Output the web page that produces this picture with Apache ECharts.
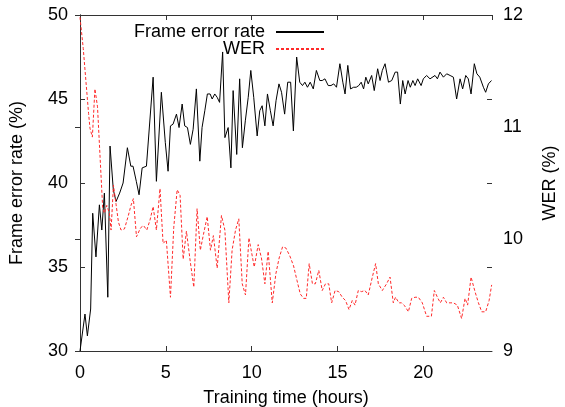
<!DOCTYPE html>
<html>
<head>
<meta charset="utf-8">
<script src="https://cdn.jsdelivr.net/npm/echarts@6/dist/echarts.min.js"></script>
<style>
html,body{margin:0;padding:0;background:#fff;}
#chart{width:565px;height:407px;}
</style>
</head>
<body>
<div id="chart"></div>
<script>
// Frame error rate (%) vs training time (hours)
var ferPoints = [
[0,30.0],[0.29,32.2],[0.43,30.9],[0.62,32.5],[0.74,38.2],[0.93,35.6],[1.13,38.7],[1.27,37.2],[1.42,39.4],[1.62,33.2],
[1.75,42.2],[1.94,39.6],[2.10,38.9],[2.31,39.4],[2.51,40.0],[2.76,42.1],[2.96,41.0],[3.09,41.0],[3.28,40.1],[3.44,39.3],
[3.62,40.9],[3.87,41.0],[4.26,46.3],[4.45,40.1],[4.74,45.4],[4.97,42.4],[5.13,40.7],[5.27,43.4],[5.42,43.5],[5.62,44.1],
[5.77,43.3],[5.95,44.7],[6.10,43.4],[6.26,43.3],[6.43,42.3],[6.59,43.2],[6.78,45.6],[6.98,41.3],[7.11,43.3],[7.27,44.3],
[7.42,45.3],[7.58,45.3],[7.70,45.0],[7.85,45.3],[7.99,45.1],[8.13,44.8],[8.31,47.8],[8.44,42.7],[8.63,43.3],[8.79,40.9],
[8.92,45.5],[9.13,41.7],[9.30,46.2],[9.46,42.1],[9.63,43.7],[9.80,45.1],[9.95,46.7],[10.12,45.1],[10.32,42.8],[10.47,44.3],
[10.61,44.6],[10.77,43.4],[10.92,45.3],[11.09,44.3],[11.25,43.4],[11.42,44.9],[11.59,45.9],[11.74,45.4],[11.92,44.1],[12.10,46.0],
[12.27,46.0],[12.43,43.1],[12.62,47.5],[12.80,46.0],[12.96,45.8],[13.10,46.0],[13.25,45.7],[13.41,46.0],[13.59,45.6],[13.77,46.7],
[13.97,46.1],[14.11,46.1],[14.27,46.2],[14.46,45.8],[14.62,45.8],[14.78,45.9],[14.94,45.7],[15.14,47.1],[15.31,46.0],[15.44,45.3],
[15.60,47.0],[15.76,45.6],[15.94,45.7],[16.09,45.7],[16.24,45.8],[16.38,46.0],[16.52,45.6],[16.65,46.3],[16.79,45.9],[16.99,46.4],
[17.14,45.5],[17.34,46.8],[17.48,46.1],[17.61,46.7],[17.77,47.1],[17.97,46.0],[18.16,46.1],[18.36,46.6],[18.50,46.6],[18.66,44.7],
[18.80,46.1],[18.94,45.3],[19.11,46.1],[19.24,45.7],[19.39,46.1],[19.52,45.8],[19.67,46.2],[19.87,45.8],[20.00,46.2],[20.19,46.4],
[20.39,46.2],[20.48,46.3],[20.68,46.4],[20.82,46.2],[20.97,46.6],[21.17,46.3],[21.36,46.5],[21.56,46.4],[21.75,46.3],[21.94,45.0],
[22.14,46.2],[22.29,45.6],[22.47,46.4],[22.62,46.2],[22.78,45.3],[22.97,47.1],[23.12,46.5],[23.29,46.3],[23.50,45.7],[23.63,45.4],
[23.79,45.9],[23.97,46.1]
];
// WER (%) vs training time (hours)
var werPoints = [
[0,11.98],[0.19,11.70],[0.35,11.40],[0.50,11.12],[0.58,10.99],[0.72,10.91],[0.87,11.34],[1.02,11.18],[1.17,10.73],[1.32,10.28],
[1.42,10.23],[1.56,10.30],[1.71,10.23],[1.81,10.08],[1.95,10.48],[2.10,10.31],[2.24,10.15],[2.39,10.08],[2.59,10.09],[2.80,10.20],
[2.97,10.30],[3.11,10.36],[3.29,10.02],[3.53,10.10],[3.70,10.12],[3.89,10.08],[4.08,10.17],[4.26,10.29],[4.45,10.08],[4.66,10.45],
[4.84,9.96],[5.03,9.99],[5.27,9.48],[5.46,10.10],[5.66,10.44],[5.83,10.39],[6.01,9.82],[6.20,10.07],[6.43,9.79],[6.63,9.57],
[6.82,10.27],[7.01,9.90],[7.19,10.04],[7.41,10.20],[7.60,9.90],[7.77,10.03],[7.99,9.74],[8.24,10.21],[8.44,10.08],[8.67,9.43],
[8.86,9.90],[9.06,10.08],[9.25,10.18],[9.45,9.60],[9.64,9.50],[9.84,10.01],[10.15,9.75],[10.38,9.95],[10.57,9.83],[10.77,9.60],
[10.96,9.89],[11.20,9.43],[11.41,9.69],[11.60,9.83],[11.80,9.93],[11.99,9.92],[12.22,9.85],[12.44,9.76],[12.64,9.63],[12.83,9.51],
[13.02,9.47],[13.18,9.47],[13.35,9.78],[13.54,9.60],[13.71,9.60],[13.91,9.72],[14.11,9.54],[14.30,9.60],[14.49,9.60],[14.66,9.43],
[14.86,9.54],[15.07,9.53],[15.28,9.48],[15.47,9.45],[15.67,9.37],[15.86,9.45],[16.02,9.41],[16.21,9.54],[16.40,9.53],[16.60,9.54],
[16.79,9.50],[17.03,9.66],[17.22,9.78],[17.38,9.60],[17.61,9.54],[17.86,9.60],[18.06,9.66],[18.25,9.43],[18.38,9.48],[18.58,9.43],
[18.73,9.43],[18.93,9.40],[19.13,9.35],[19.32,9.47],[19.52,9.48],[19.71,9.48],[19.94,9.43],[20.19,9.31],[20.47,9.31],[20.64,9.54],
[20.82,9.48],[20.99,9.43],[21.17,9.48],[21.36,9.43],[21.56,9.43],[21.75,9.43],[21.98,9.41],[22.23,9.29],[22.43,9.47],[22.58,9.41],
[22.78,9.66],[23.01,9.53],[23.21,9.43],[23.40,9.35],[23.63,9.35],[23.83,9.45],[23.98,9.59]
];
var xRange = [0, 24];
var xTickStep = 5;
var ferRange = [30, 50];
var ferTickStep = 5;
var werRange = [9, 12];
var werTickStep = 1;
var seriesNames = ['Frame error rate', 'WER'];
var xTitle = 'Training time (hours)';
var ferTitle = 'Frame error rate (%)';
var werTitle = 'WER (%)';

var FONT = '"Liberation Sans", Arial, Helvetica, sans-serif';
var FS = 18;
var AXC = '#333';
var chart = echarts.init(document.getElementById('chart'), null, {renderer: 'canvas'});

function legendItem(name, top) {
  return {data: [name], right: 240, top: top, orient: 'vertical', align: 'right', padding: 0,
    itemWidth: 48, itemHeight: 14, itemStyle: {opacity: 0},
    textStyle: {fontFamily: FONT, fontSize: FS, color: '#000', padding: [0, 6, 0, 0]}};
}

var option = {
  animation: false,
  backgroundColor: '#fff',
  textStyle: {fontFamily: FONT},
  grid: {left: 80, right: 73, top: 15, bottom: 56, containLabel: false, outerBoundsMode: 'none'},
  legend: [legendItem(seriesNames[0], 23), legendItem(seriesNames[1], 40)],
  xAxis: [
    {type: 'value', position: 'bottom', min: xRange[0], max: xRange[1], interval: xTickStep,
     name: xTitle, nameLocation: 'middle', nameGap: 38,
     nameTextStyle: {fontFamily: FONT, fontSize: FS, color: '#000'},
     axisLine: {show: true, lineStyle: {color: AXC, width: 1}},
     axisTick: {show: true, inside: true, length: 5, lineStyle: {color: AXC}},
     axisLabel: {show: true, margin: 13, fontFamily: FONT, fontSize: FS, color: '#000', showMaxLabel: false},
     splitLine: {show: false}},
    {type: 'value', position: 'top', min: xRange[0], max: xRange[1], interval: xTickStep,
     axisLine: {show: true, lineStyle: {color: AXC, width: 1}},
     axisTick: {show: true, inside: true, length: 5, lineStyle: {color: AXC}},
     axisLabel: {show: false}, splitLine: {show: false}}
  ],
  yAxis: [
    {type: 'value', position: 'left', min: ferRange[0], max: ferRange[1], interval: ferTickStep,
     name: ferTitle, nameLocation: 'middle', nameGap: 54, nameRotate: 90,
     nameTextStyle: {fontFamily: FONT, fontSize: FS, color: '#000'},
     axisLine: {show: true, lineStyle: {color: AXC, width: 1}},
     axisTick: {show: true, inside: true, length: 5, lineStyle: {color: AXC}},
     axisLabel: {show: true, margin: 12, fontFamily: FONT, fontSize: FS, color: '#000'},
     splitLine: {show: false}},
    {type: 'value', position: 'right', min: werRange[0], max: werRange[1], interval: werTickStep,
     name: werTitle, nameLocation: 'middle', nameGap: 49, nameRotate: 90,
     nameTextStyle: {fontFamily: FONT, fontSize: FS, color: '#000'},
     axisLine: {show: true, lineStyle: {color: AXC, width: 1}},
     axisTick: {show: true, inside: true, length: 5, lineStyle: {color: AXC}},
     axisLabel: {show: true, margin: 11, fontFamily: FONT, fontSize: FS, color: '#000'},
     splitLine: {show: false}},
    {type: 'value', position: 'right', offset: 0, min: ferRange[0], max: ferRange[1], interval: ferTickStep,
     axisLine: {show: false},
     axisTick: {show: true, inside: true, length: 5, lineStyle: {color: AXC}},
     axisLabel: {show: false}, splitLine: {show: false}}
  ],
  series: [
    {name: seriesNames[0], type: 'line', xAxisIndex: 0, yAxisIndex: 0, data: ferPoints,
     symbol: 'none', smooth: false, clip: true,
     lineStyle: {color: '#000', width: 1}, itemStyle: {color: '#000'}},
    {name: seriesNames[1], type: 'line', xAxisIndex: 0, yAxisIndex: 1, data: werPoints,
     symbol: 'none', smooth: false, clip: true,
     lineStyle: {color: '#ff2a2a', width: 1, type: [3, 2]}, itemStyle: {color: '#ff2a2a'}}
  ]
};
chart.setOption(option);
</script>
</body>
</html>
